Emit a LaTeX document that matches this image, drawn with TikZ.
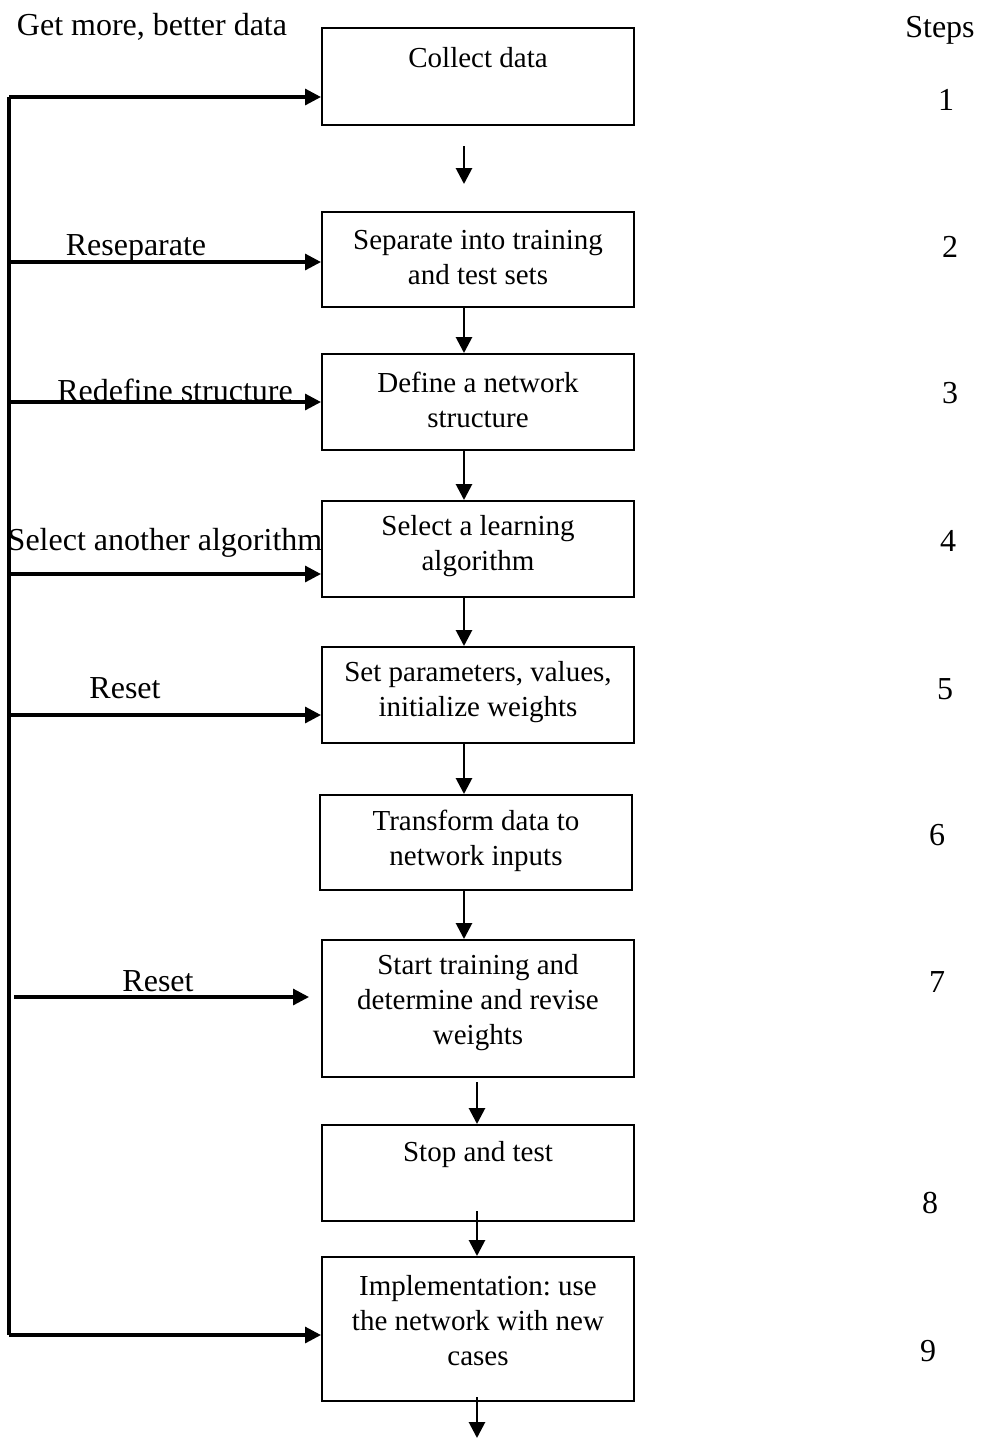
\documentclass[tikz,border=0pt]{standalone}
\usepackage{fontspec}
\setmainfont{Liberation Serif}
\frenchspacing
\usetikzlibrary{arrows.meta}
\begin{document}
\begin{tikzpicture}[x=0.5pt,y=-0.5pt,
  stepbox/.style={draw, line width=1pt, inner sep=0pt, minimum width=156pt},
  boxtext/.style={inner sep=0pt, align=center, font=\fontsize{14.5pt}{17.5pt}\selectfont},
  lbl/.style={inner sep=0pt, anchor=base, font=\fontsize{16pt}{19pt}\selectfont},
  arr/.style={line width=1.4pt, -{Triangle[length=8pt,width=8pt]}},
  fb/.style={line width=1.6pt, -{Triangle[length=8pt,width=8pt]}}]
\useasboundingbox (0,0) rectangle (981,1448);

% process boxes
\node[stepbox, minimum height=48.5pt] (b1) at (478,76.5) {};
\node[stepbox, minimum height=47.5pt] (b2) at (478,259.5) {};
\node[stepbox, minimum height=48pt]   (b3) at (478,402) {};
\node[stepbox, minimum height=48pt]   (b4) at (478,549) {};
\node[stepbox, minimum height=48pt]   (b5) at (478,695) {};
\node[stepbox, minimum height=47.5pt] (b6) at (476,842.5) {};
\node[stepbox, minimum height=68.5pt] (b7) at (478,1008.5) {};
\node[stepbox, minimum height=48pt]   (b8) at (478,1173) {};
\node[stepbox, minimum height=72pt]   (b9) at (478,1329) {};

% box texts
\node[boxtext] (t1) at (478,58) {Collect data};
\node[boxtext] (t2) at (478,257.5) {Separate into training\\and test sets};
\node[boxtext] (t3) at (478,400) {Define a network\\structure};
\node[boxtext] (t4) at (478,546) {Select a learning\\algorithm};
\node[boxtext] (t5) at (478,692.5) {Set parameters, values,\\initialize weights};
\node[boxtext] (t6) at (476,840.5) {Transform data to\\network inputs};
\node[boxtext] (t7) at (478,1002.5) {Start training and\\determine and revise\\weights};
\node[boxtext] (t8) at (478,1155) {Stop and test};
\node[boxtext] (t9) at (478,1321) {Implementation: use\\the network with new\\cases};

% arrow columns
\coordinate (colA) at (464,0);
\coordinate (colB) at (477,0);
\coordinate (outEnd) at (477,1438);

% forward flow
\draw[arr, shorten <=10pt, shorten >=13.5pt] (b1.south -| colA) -- (b2.north -| colA);
\draw[arr] (b2.south -| colA) -- (b3.north -| colA);
\draw[arr] (b3.south -| colA) -- (b4.north -| colA);
\draw[arr] (b4.south -| colA) -- (b5.north -| colA);
\draw[arr] (b5.south -| colA) -- (b6.north -| colA);
\draw[arr] (b6.south -| colA) -- (b7.north -| colA);
\draw[arr, shorten <=2pt] (b7.south -| colB) -- (b8.north -| colB);
\draw[arr, shorten <=-5.5pt] (b8.south -| colB) -- (b9.north -| colB);
\draw[arr, shorten <=-2.5pt] (b9.south -| colB) -- (outEnd);

% feedback bus on the left
\coordinate (f1) at (9,97);
\coordinate (f2) at (9,262);
\coordinate (f3) at (9,402);
\coordinate (f4) at (9,574);
\coordinate (f5) at (9,715);
\coordinate (f9) at (9,1335);
\coordinate (r7) at (14,997);
\draw[line width=1.6pt] (f1) -- (f9);
\draw[fb] (f1) -- (f1 -| b1.west);
\draw[fb] (f2) -- (f2 -| b2.west);
\draw[fb] (f3) -- (f3 -| b3.west);
\draw[fb] (f4) -- (f4 -| b4.west);
\draw[fb] (f5) -- (f5 -| b5.west);
\draw[fb] (r7) -- ([xshift=-6pt]b7.west |- r7);
\draw[fb] (f9) -- (f9 -| b9.west);

% feedback labels
\node[lbl] (l1) at (152,35) {Get more, better data};
\node[lbl] (l2) at (136,255) {Reseparate};
\node[lbl] (l3) at (175,401) {Redefine structure};
\node[lbl] (l4) at (165,550) {Select another algorithm};
\node[lbl] (l5) at (125,698) {Reset};
\node[lbl] (l7) at (158,991) {Reset};

% step numbers
\node[lbl] (s0) at (940,37) {Steps};
\node[lbl] (s1) at (946,110) {1};
\node[lbl] (s2) at (950,257) {2};
\node[lbl] (s3) at (950,403) {3};
\node[lbl] (s4) at (948,551) {4};
\node[lbl] (s5) at (945,699) {5};
\node[lbl] (s6) at (937,845) {6};
\node[lbl] (s7) at (937,992) {7};
\node[lbl] (s8) at (930,1213) {8};
\node[lbl] (s9) at (928,1361) {9};
\end{tikzpicture}
\end{document}
